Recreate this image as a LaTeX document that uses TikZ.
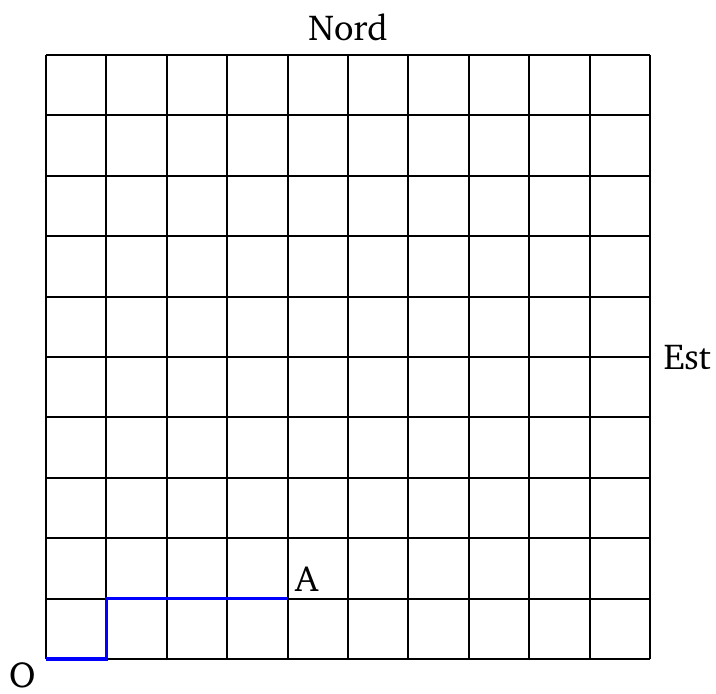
\documentclass[tikz,border=0pt]{standalone}
\usepackage[T1]{fontenc}
\usepackage{charter}
\usepackage{tikz}
\usetikzlibrary{positioning}

\begin{document}
\begin{tikzpicture}[
  every node/.style={font=\fontsize{17}{20}\selectfont},
  gridline/.style={line width=0.9pt},
  chemin/.style={blue, line width=1.8pt},
]
\useasboundingbox (-0.762,-0.579) rectangle (11.093,10.911);
\draw[gridline] (0,0) grid (10,10);
\coordinate (O) at (0,0);
\coordinate (B) at (1,0);
\coordinate (C) at (1,1);
\coordinate (A) at (4,1);
\draw[chemin] (O) -- (B) -- (C) -- (A);
\node[below left, yshift=0.6mm, xshift=-0.5mm] (lO) at (O) {O};
\node[above right] (lA) at (A) {A};
\node[above, yshift=1mm] (nord) at (5,10) {Nord};
\node[right, xshift=1mm] (est) at (10,5) {Est};
\end{tikzpicture}
\end{document}
